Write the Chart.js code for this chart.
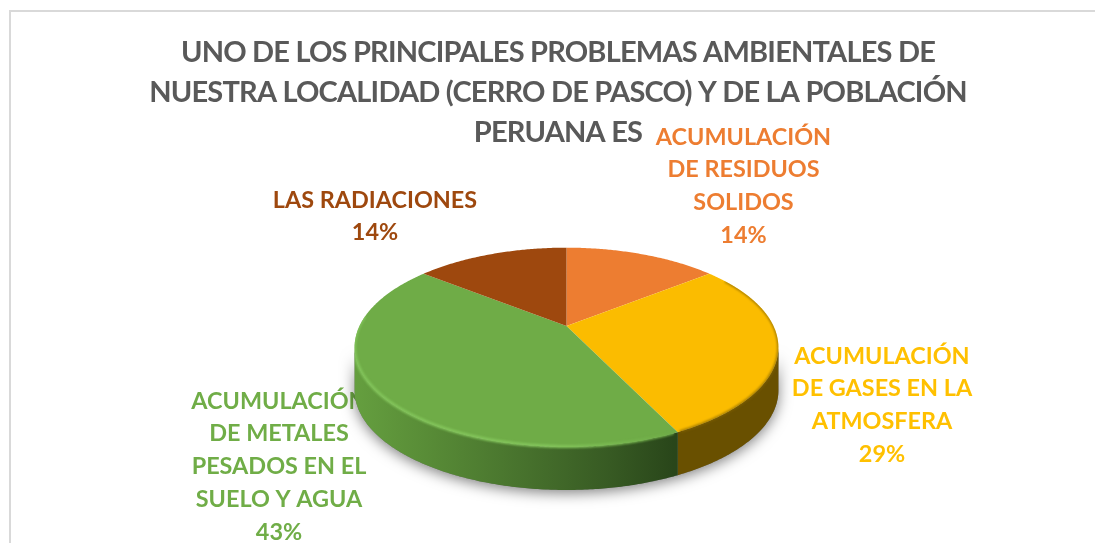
<!DOCTYPE html>
<html><head><meta charset="utf-8">
<script src="https://cdn.jsdelivr.net/npm/chart.js@4"></script>
<style>html,body{margin:0;padding:0;background:#fff;overflow:hidden}
#wrap{position:relative;width:1095px;height:543px}
#frame{position:absolute;left:9px;top:10px;right:0;bottom:0;border-left:2px solid #d9d9d9;border-top:2px solid #d9d9d9}
canvas{position:absolute;left:0;top:0}</style></head>
<body><div id="wrap"><div id="frame"></div><canvas id="c" width="1095" height="543"></canvas></div>
<script>
const titleLines = ['UNO DE LOS PRINCIPALES PROBLEMAS AMBIENTALES DE','NUESTRA LOCALIDAD (CERRO DE PASCO) Y DE LA POBLACIÓN','PERUANA ES'];
const categories = ['ACUMULACIÓN DE RESIDUOS SOLIDOS','ACUMULACIÓN DE GASES EN LA ATMOSFERA','ACUMULACIÓN DE METALES PESADOS EN EL SUELO Y AGUA','LAS RADIACIONES'];
const values = [14.3, 28.6, 42.9, 14.3];
const colors = ['#ed7d31','#fbbc00','#6fac47','#9e480e'];
const labelColors = ['#ed7d31','#ffc000','#70ad47','#9e480e'];
const labelLines = [['ACUMULACIÓN','DE RESIDUOS','SOLIDOS'],['ACUMULACIÓN','DE GASES EN LA','ATMOSFERA'],['ACUMULACIÓN','DE METALES','PESADOS EN EL','SUELO Y AGUA'],['LAS RADIACIONES']];
const labelAnchors = [[743.5,137],[882,356],[279,401],[375,200]];
const LABEL_STEP = 32.8;

// perspective of the tilted disc
const P = {x0:566.5,y0:326,a:207,b:95.1,k:0.214,h:43};
const proj=(u,v,dy=0)=>{const w=1-P.k*v;return [P.x0+P.a*u/w,P.y0+P.b*v/w+dy];};
const rimAngle=Math.asin(P.k);
function arcPts(s,e,dy=0){const n=Math.max(2,Math.ceil((e-s)/0.01));const r=[];
  for(let i=0;i<=n;i++){const t=s+(e-s)*i/n;r.push(proj(Math.cos(t),Math.sin(t),dy));}return r;}
function trace(ctx,pts,first){pts.forEach((p,i)=>{(i==0&&first)?ctx.moveTo(p[0],p[1]):ctx.lineTo(p[0],p[1]);});}
function wallPath(ctx,s,e){ctx.beginPath();trace(ctx,arcPts(s,e),true);trace(ctx,arcPts(s,e,P.h).reverse(),false);ctx.closePath();}

const spacing={id:'spacing',beforeDraw(chart){chart.ctx.letterSpacing='-0.8px';}};
const labelsPlugin={id:'sliceLabels',beforeDatasetsDraw(chart){
  const ctx=chart.ctx;ctx.letterSpacing='0px';ctx.save();ctx.font='700 23.4px Lato';ctx.textAlign='center';ctx.textBaseline='middle';
  const vals=chart.data.datasets[0].data;const tot=vals.reduce((a,b)=>a+b,0);
  labelLines.forEach((ls,i)=>{ctx.fillStyle=labelColors[i];
    const all=ls.concat([Math.round(vals[i]/tot*100)+'%']);
    all.forEach((t,j)=>ctx.fillText(t,labelAnchors[i][0],labelAnchors[i][1]+j*LABEL_STEP));});
  ctx.restore();}};

const pie3d={id:'pie3d',beforeDatasetDraw(chart,args){
  const ctx=chart.ctx;const arcs=chart.getDatasetMeta(args.index).data;
  const props=arcs.map(a=>a.getProps(['startAngle','endAngle']));
  ctx.save();
  // soft ground shadow
  ctx.save();ctx.shadowColor='rgba(0,0,0,0.5)';ctx.shadowBlur=14;ctx.shadowOffsetY=3;ctx.fillStyle='#777';
  wallPath(ctx,rimAngle,Math.PI-rimAngle);ctx.fill();ctx.restore();
  // walls
  props.forEach((p,i)=>{
    const s=Math.max(p.startAngle,rimAngle),e=Math.min(p.endAngle,Math.PI-rimAngle);
    if(e<=s)return;
    const g=ctx.createLinearGradient(354,0,674,0);
    if(i===2){g.addColorStop(0,'#659f3f');g.addColorStop(.25,'#578a36');g.addColorStop(.55,'#46702c');g.addColorStop(.8,'#375a23');g.addColorStop(1,'#29461a');ctx.fillStyle=g;}
    else ctx.fillStyle='#695000';
    wallPath(ctx,s,e);ctx.fill();
  });
  // top face
  arcs.forEach((el,i)=>{const p=props[i];ctx.beginPath();const c=proj(0,0);ctx.moveTo(c[0],c[1]);
    trace(ctx,arcPts(p.startAngle,p.endAngle),false);ctx.closePath();ctx.fillStyle=el.options.backgroundColor;ctx.fill();});
  // bevel on the front rim, kept inside the disc and its wall
  ctx.beginPath();trace(ctx,arcPts(-Math.PI/2,3*Math.PI/2),true);ctx.closePath();
  const wallOutline=new Path2D();const wp=arcPts(rimAngle,Math.PI-rimAngle).concat(arcPts(rimAngle,Math.PI-rimAngle,P.h).reverse());
  wp.forEach((q,i)=>i?wallOutline.lineTo(q[0],q[1]):wallOutline.moveTo(q[0],q[1]));wallOutline.closePath();
  const disc=new Path2D();arcPts(-Math.PI/2,3*Math.PI/2).forEach((q,i)=>i?disc.lineTo(q[0],q[1]):disc.moveTo(q[0],q[1]));disc.closePath();
  disc.addPath(wallOutline);ctx.clip(disc,'nonzero');
  ctx.filter='blur(1px)';
  ctx.lineCap='butt';
  props.forEach((p,i)=>{
    if(i===2){const e=Math.min(p.endAngle,Math.PI+0.1);const g=ctx.createLinearGradient(354,0,674,0);
      g.addColorStop(0,'#82c45a');g.addColorStop(.6,'#84c65c');g.addColorStop(1,'#6fac47');
      ctx.beginPath();trace(ctx,arcPts(p.startAngle+0.02,e,-0.5),true);ctx.strokeStyle=g;ctx.lineWidth=3;ctx.stroke();}
    if(i===1){ctx.beginPath();trace(ctx,arcPts(Math.max(p.startAngle,-0.55),p.endAngle-0.01,0),true);ctx.strokeStyle='rgba(130,98,0,0.7)';ctx.lineWidth=2.5;ctx.stroke();}
  });
  ctx.restore();
  return false;}};

new Chart(document.getElementById('c'),{type:'pie',
  data:{labels:categories,datasets:[{data:values,backgroundColor:colors,borderWidth:0}]},
  plugins:[spacing,labelsPlugin,pie3d],
  options:{responsive:false,animation:false,layout:{padding:{left:21}},
    plugins:{legend:{display:false},tooltip:{enabled:false},
      title:{display:true,text:titleLines,fullSize:false,color:'#595959',padding:{top:33,bottom:0},
        font:{family:'Lato',size:29,weight:'700',lineHeight:1.38}}}}});
</script></body></html>
